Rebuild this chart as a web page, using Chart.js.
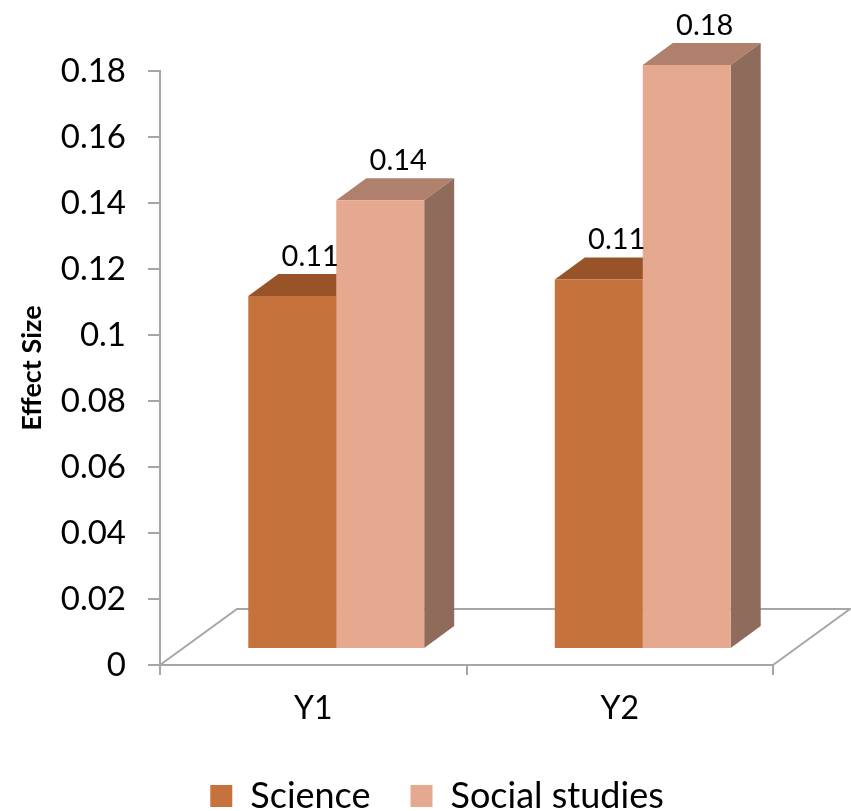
<!DOCTYPE html>
<html>
<head>
<meta charset="utf-8">
<script src="https://cdn.jsdelivr.net/npm/chart.js@4.4.1/dist/chart.umd.min.js"></script>
<style>
    html, body { margin: 0; padding: 0; background: #fff; }
    #wrap { width: 851px; height: 811px; }
</style>
</head>
<body>
<div id="wrap"><canvas id="effectChart"></canvas></div>
<script>
// Data
const categories = ['Y1', 'Y2'];
const science = [0.107, 0.112];
const socialStudies = [0.136, 0.177];
const yTicks = ['0', '0.02', '0.04', '0.06', '0.08', '0.1', '0.12', '0.14', '0.16', '0.18'];

const font = 'Lato, "Open Sans", sans-serif';
const axisGrey = '#a6a6a6';

// 3D look: bars sit a bit back on the floor, each box has depth
const barShift = { x: 23, y: -16 };
const boxDepth = { x: 30, y: -22 };
const floorDepth = { x: 77, y: -56 };

const faceColors = [
    { top: '#985328', side: '#9a5a30' },
    { top: '#af806b', side: '#8f6b5b' }
];

const box3d = {
    id: 'box3d',
    beforeDatasetsDraw(chart) {
        const { ctx, chartArea: a } = chart;
        // floor of the 3D plot
        ctx.save();
        ctx.strokeStyle = axisGrey;
        ctx.lineWidth = 2;
        ctx.beginPath();
        ctx.moveTo(a.left, a.bottom);
        ctx.lineTo(a.left + floorDepth.x, a.bottom + floorDepth.y);
        ctx.lineTo(a.right + floorDepth.x, a.bottom + floorDepth.y);
        ctx.lineTo(a.right, a.bottom);
        ctx.stroke();
        ctx.restore();

        // shift everything bar-related, then paint top and side faces first
        // so the front faces drawn by Chart.js cover the hidden parts
        ctx.save();
        ctx.translate(barShift.x, barShift.y);
        chart.data.datasets.forEach((ds, i) => {
            const colors = faceColors[i];
            chart.getDatasetMeta(i).data.forEach(bar => {
                const { x, y, base, width } = bar.getProps(['x', 'y', 'base', 'width'], true);
                const l = x - width / 2, r = x + width / 2;
                ctx.fillStyle = colors.top;
                ctx.beginPath();
                ctx.moveTo(l, y);
                ctx.lineTo(l + boxDepth.x, y + boxDepth.y);
                ctx.lineTo(r + boxDepth.x, y + boxDepth.y);
                ctx.lineTo(r, y);
                ctx.closePath();
                ctx.fill();
                ctx.fillStyle = colors.side;
                ctx.beginPath();
                ctx.moveTo(r, y);
                ctx.lineTo(r + boxDepth.x, y + boxDepth.y);
                ctx.lineTo(r + boxDepth.x, base + boxDepth.y);
                ctx.lineTo(r, base);
                ctx.closePath();
                ctx.fill();
            });
        });
    },
    afterDatasetsDraw(chart) {
        const ctx = chart.ctx;
        ctx.restore(); // undo the bar shift

        // value labels above each box
        ctx.save();
        ctx.font = '29px ' + font;
        ctx.fillStyle = '#000';
        ctx.textAlign = 'center';
        ctx.textBaseline = 'alphabetic';
        chart.data.datasets.forEach((ds, i) => {
            chart.getDatasetMeta(i).data.forEach((bar, j) => {
                const { x, y } = bar.getProps(['x', 'y'], true);
                ctx.fillText(ds.data[j].toFixed(2),
                    x + barShift.x + boxDepth.x / 2 + 3,
                    y + barShift.y + boxDepth.y - 8);
            });
        });
        ctx.restore();
    }
};

const ctx = document.getElementById('effectChart').getContext('2d');
new Chart(ctx, {
    type: 'bar',
    data: {
        labels: categories,
        datasets: [
            { label: 'Science', data: science, backgroundColor: '#c5723d' },
            { label: 'Social studies', data: socialStudies, backgroundColor: '#e5a990' }
        ]
    },
    options: {
        responsive: true,
        maintainAspectRatio: false,
        animation: false,
        layout: { padding: { top: 71, right: 0, left: 23, bottom: -13 } },
        datasets: {
            bar: {
                categoryPercentage: 0.574,
                barPercentage: 1,
                borderWidth: 0,
                clip: false
            }
        },
        scales: {
            x: {
                grid: { drawOnChartArea: false, color: axisGrey, lineWidth: 2, tickLength: 10, offset: true },
                border: { color: axisGrey, width: 2 },
                ticks: { color: '#000', font: { family: font, size: 32 }, padding: 14 },
                afterFit: scale => { scale.height = 73; }
            },
            y: {
                min: 0,
                max: 0.18,
                grid: { drawOnChartArea: false, color: axisGrey, lineWidth: 2, tickLength: 12 },
                border: { color: axisGrey, width: 2 },
                ticks: {
                    stepSize: 0.02,
                    color: '#000',
                    font: { family: font, size: 33 },
                    padding: 22,
                    callback: (v, i) => yTicks[i]
                },
                title: {
                    display: true,
                    text: 'Effect Size',
                    color: '#000',
                    font: { family: font, size: 27, weight: 'bold' },
                    padding: { top: -7, bottom: 0 }
                },
                afterFit: scale => { scale.width = 137; }
            },
            // empty right-hand strip so the floor has room to recede
            yRight: {
                position: 'right',
                grid: { display: false },
                border: { display: false },
                ticks: { display: false },
                afterFit: scale => { scale.width = 78; }
            }
        },
        plugins: {
            legend: {
                position: 'bottom',
                labels: {
                    color: '#000',
                    font: { family: font, size: 36 },
                    boxWidth: 22,
                    boxHeight: 22,
                    padding: 40
                }
            },
            tooltip: { enabled: false }
        }
    },
    plugins: [box3d]
});
</script>
</body>
</html>
